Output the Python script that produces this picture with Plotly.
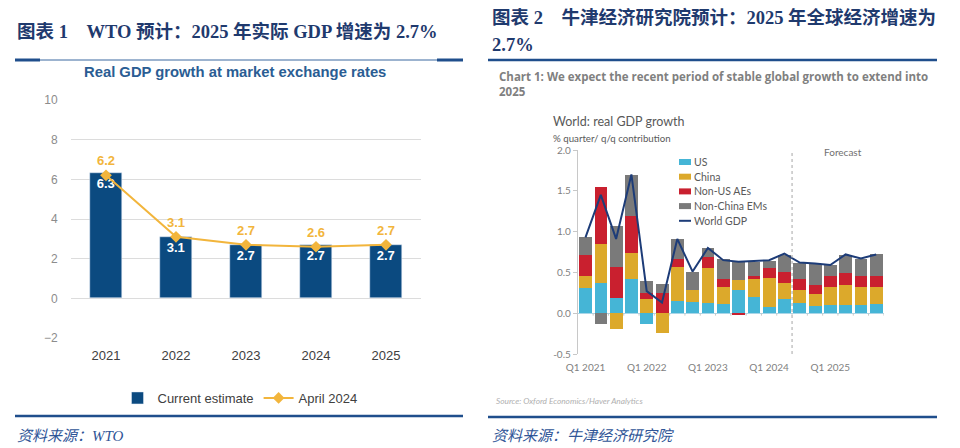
import plotly.graph_objects as go

W, H = 960, 448

# ---------------- Left chart data (WTO) ----------------
years = ["2021", "2022", "2023", "2024", "2025"]
current_estimate = [6.3, 3.1, 2.7, 2.7, 2.7]
april_2024 = [6.2, 3.1, 2.7, 2.6, 2.7]
left_yticks = [-2, 0, 2, 4, 6, 8, 10]

# ---------------- Right chart data (Oxford Economics) ----------------
quarters = [f"Q{q} {y}" for y in range(2021, 2026) for q in range(1, 5)]
us = [0.31, 0.37, 0.19, 0.42, -0.13, 0.00, 0.15, 0.14, 0.12, 0.11,
      0.28, 0.20, 0.07, 0.17, 0.13, 0.09, 0.10, 0.10, 0.10, 0.11]
china = [0.15, 0.48, -0.19, 0.32, 0.17, -0.24, 0.42, 0.14, 0.44, 0.21,
         0.13, 0.22, 0.36, 0.20, 0.16, 0.15, 0.22, 0.25, 0.22, 0.21]
non_us_aes = [0.25, 0.70, 0.38, 0.45, 0.08, 0.25, 0.10, 0.00, 0.13, 0.10,
              -0.02, 0.03, 0.12, 0.13, 0.13, 0.10, 0.13, 0.14, 0.14, 0.14]
non_china_ems = [0.23, -0.13, 0.50, 0.50, 0.15, 0.11, 0.24, 0.23, 0.11, 0.24,
                 0.22, 0.18, 0.09, 0.21, 0.20, 0.26, 0.14, 0.22, 0.21, 0.26]
world_gdp = [0.93, 1.45, 0.91, 1.70, 0.27, 0.13, 0.91, 0.51, 0.80, 0.65,
             0.63, 0.64, 0.65, 0.73, 0.62, 0.61, 0.59, 0.72, 0.67, 0.72]
q_tick_labels = ["Q1 2021", "Q1 2022", "Q1 2023", "Q1 2024", "Q1 2025"]
right_yticks = [-0.5, 0.0, 0.5, 1.0, 1.5, 2.0]
forecast_start = "Q3 2024"

# ---------------- styling ----------------
NAVY = "#0b4a80"
GOLD = "#f2b53c"
TITLE_BLUE = "#1f3a6e"
RULE_BLUE = "#1f4e8c"
SANS = "Liberation Sans, Arial, sans-serif"
SERIF_CJK = "Liberation Serif, Noto Sans CJK SC, serif"
OX = "Lato, Open Sans, sans-serif"
OXB = "Open Sans, Lato, sans-serif"
SERIES_COLORS = {"US": "#45b5d6", "China": "#dca92b", "Non-US AEs": "#c9202f",
                 "Non-China EMs": "#7a7a7a", "World GDP": "#1d3c78"}


def px(x):
    return x / W


def py(y):
    return 1 - y / H


fig = go.Figure()

# Left chart traces
fig.add_trace(go.Bar(
    x=years, y=current_estimate, name="Current estimate",
    marker=dict(color=NAVY), width=0.47,
    texttemplate="<b>%{y:.1f}</b>", textposition="inside", insidetextanchor="end",
    textfont=dict(color="white", size=13, family=SANS), textangle=0,
    xaxis="x", yaxis="y", legend="legend2",
))
fig.add_trace(go.Scatter(
    x=years, y=april_2024, name="April 2024", mode="lines+markers+text",
    line=dict(color=GOLD, width=2), marker=dict(symbol="diamond", size=9, color=GOLD),
    text=[f"<b>{v:.1f}</b>" for v in april_2024], textposition="top center",
    textfont=dict(color=GOLD, size=13, family=SANS),
    xaxis="x", yaxis="y", legend="legend2",
))

# Right chart traces
series = [("US", us), ("China", china), ("Non-US AEs", non_us_aes), ("Non-China EMs", non_china_ems)]
for name, vals in series:
    fig.add_trace(go.Bar(
        x=quarters, y=vals, name=name, marker=dict(color=SERIES_COLORS[name], line=dict(width=0)),
        width=0.84, xaxis="x2", yaxis="y2", showlegend=False,
    ))
fig.add_trace(go.Scatter(
    x=quarters, y=world_gdp, name="World GDP", mode="lines",
    line=dict(color=SERIES_COLORS["World GDP"], width=2), xaxis="x2", yaxis="y2", showlegend=False,
))

fi = quarters.index(forecast_start)
shapes = [
    # forecast divider
    dict(type="line", xref="x2", yref="y2", x0=fi - 0.5, x1=fi - 0.5, y0=-0.5, y1=2.04,
         line=dict(color="#a6a6a6", width=1, dash="dot")),
    # top rules
    dict(type="line", xref="paper", yref="paper", x0=px(15), x1=px(463), y0=py(60), y1=py(60),
         line=dict(color="#3a68a0", width=1)),
    dict(type="line", xref="paper", yref="paper", x0=px(15), x1=px(40), y0=py(60), y1=py(60),
         line=dict(color=RULE_BLUE, width=3)),
    dict(type="line", xref="paper", yref="paper", x0=px(437), x1=px(463), y0=py(60), y1=py(60),
         line=dict(color=RULE_BLUE, width=3)),
    dict(type="line", xref="paper", yref="paper", x0=px(488), x1=px(937), y0=py(60), y1=py(60),
         line=dict(color=RULE_BLUE, width=2.5)),
    # bottom rules
    dict(type="line", xref="paper", yref="paper", x0=px(15), x1=px(463), y0=py(416), y1=py(416),
         line=dict(color=RULE_BLUE, width=2.5)),
    dict(type="line", xref="paper", yref="paper", x0=px(488), x1=px(937), y0=py(417), y1=py(417),
         line=dict(color=RULE_BLUE, width=2.5)),
]
# small category ticks on the zero line of the right chart
for k in range(len(quarters)):
    shapes.append(dict(type="line", xref="x2", yref="y2", x0=k + 0.5, x1=k + 0.5, y0=0, y1=-0.03,
                       line=dict(color="#c8c8c8", width=1)))

annotations = [
    dict(text="<b>图表 1　WTO 预计：2025 年实际 GDP 增速为 2.7%</b>", x=px(15), y=py(32),
         xanchor="left", yanchor="middle", font=dict(family=SERIF_CJK, size=18.5, color=TITLE_BLUE)),
    dict(text="<b>Real GDP growth at market exchange rates</b>", x=px(235), y=py(72),
         xanchor="center", yanchor="middle", font=dict(family=SANS, size=14.8, color="#2a5d93")),
    dict(text="<i>资料来源：WTO</i>", x=px(15), y=py(436), xanchor="left", yanchor="middle",
         font=dict(family=SERIF_CJK, size=15, color="#2f5597")),
    dict(text="<b>图表 2　牛津经济研究院预计：2025 年全球经济增速为</b>", x=px(490), y=py(17),
         xanchor="left", yanchor="middle", font=dict(family=SERIF_CJK, size=18.5, color=TITLE_BLUE)),
    dict(text="<b>2.7%</b>", x=px(490), y=py(45), xanchor="left", yanchor="middle",
         font=dict(family=SERIF_CJK, size=18.5, color=TITLE_BLUE)),
    dict(text="<b>Chart 1: We expect the recent period of stable global growth to extend into<br>2025</b>",
         x=px(497), y=py(67), xanchor="left", yanchor="top", align="left",
         font=dict(family=OXB, size=11.5, color="#808080")),
    dict(text="World: real GDP growth", x=px(551), y=py(121), xanchor="left", yanchor="middle",
         font=dict(family=OX, size=12.5, color="#595959")),
    dict(text="% quarter/ q/q contribution", x=px(551), y=py(138), xanchor="left", yanchor="middle",
         font=dict(family=OX, size=9.7, color="#595959")),
    dict(text="Forecast", xref="x2", yref="y2", x=16.8, y=1.98, xanchor="center", yanchor="middle",
         showarrow=False, font=dict(family=OX, size=10, color="#707070")),
    dict(text="<i>Source: Oxford Economics/Haver Analytics</i>", x=px(494), y=py(401),
         xanchor="left", yanchor="middle", font=dict(family=OX, size=8.3, color="#b0b0b0")),
    dict(text="<i>资料来源：牛津经济研究院</i>", x=px(490), y=py(436), xanchor="left", yanchor="middle",
         font=dict(family=SERIF_CJK, size=15, color="#2f5597")),
]

# legend of the right chart (swatches + labels)
legend_names = ["US", "China", "Non-US AEs", "Non-China EMs", "World GDP"]
for i, name in enumerate(legend_names):
    yc = 162 + i * 14.7
    if name == "World GDP":
        shapes.append(dict(type="line", xref="paper", yref="paper", x0=px(679), x1=px(691),
                           y0=py(yc), y1=py(yc), line=dict(color=SERIES_COLORS[name], width=2)))
    else:
        shapes.append(dict(type="rect", xref="paper", yref="paper", x0=px(679), x1=px(691),
                           y0=py(yc + 3), y1=py(yc - 3), line=dict(width=0),
                           fillcolor=SERIES_COLORS[name]))
    annotations.append(dict(text=name, x=px(691.5), y=py(yc), xanchor="left", yanchor="middle",
                            font=dict(family=OX, size=10.5, color="#595959")))

for a in annotations:
    a.setdefault("xref", "paper")
    a.setdefault("yref", "paper")
    a.setdefault("showarrow", False)

fig.update_layout(
    width=W, height=H, autosize=False,
    margin=dict(l=0, r=0, t=0, b=0, pad=0, autoexpand=False),
    paper_bgcolor="white", plot_bgcolor="white",
    barmode="relative", bargap=0,
    font=dict(family=SANS, color="#404040"),
    xaxis=dict(domain=[px(71), px(421)], range=[-0.5, 4.5], showgrid=False, showline=False,
               ticks="outside", ticklen=5, tickcolor="rgba(0,0,0,0)", automargin=False,
               tickfont=dict(size=13, color="#404040", family=SANS), anchor="y", fixedrange=True),
    yaxis=dict(domain=[py(338), py(100)], range=[-2, 10], tickvals=left_yticks,
               showgrid=True, gridcolor="#dcdcdc", gridwidth=1, zeroline=False, showline=False,
               ticks="outside", ticklen=10, tickcolor="rgba(0,0,0,0)", automargin=False,
               tickfont=dict(size=12, color="#8c8c8c", family=SANS), anchor="x"),
    xaxis2=dict(domain=[px(577.85), px(883.85)], type="category", range=[-0.5, 19.5],
                tickvals=q_tick_labels, ticktext=q_tick_labels, showgrid=False, showline=False,
                ticks="outside", ticklen=4, tickcolor="rgba(0,0,0,0)", automargin=False,
                tickfont=dict(size=10, color="#7f7f7f", family=OX), anchor="y2"),
    yaxis2=dict(domain=[py(354), py(150)], range=[-0.5, 2.0], tickvals=right_yticks,
                ticktext=[f"{v:.1f}" for v in right_yticks], showgrid=False,
                showline=True, linecolor="#c8c8c8", linewidth=1, automargin=False,
                zeroline=True, zerolinecolor="#a9d6e8", zerolinewidth=1,
                ticks="outside", ticklen=4, tickcolor="#c8c8c8",
                tickfont=dict(size=10, color="#7f7f7f", family=OX), anchor="x2"),
    legend2=dict(orientation="h", x=px(240), y=py(398), xanchor="center", yanchor="middle",
                 font=dict(size=13, color="#404040", family=SANS), bgcolor="rgba(0,0,0,0)"),
    shapes=shapes,
    annotations=annotations,
)

fig.write_html("out.html", config={"displayModeBar": False},
               post_script="document.body.style.margin='0px';")
